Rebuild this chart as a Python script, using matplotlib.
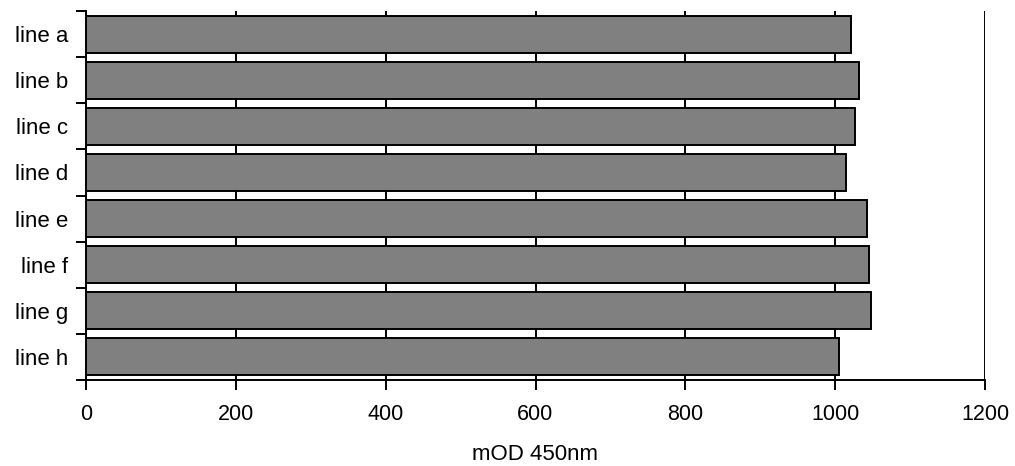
import numpy as np
import matplotlib
matplotlib.use("Agg")
import matplotlib.pyplot as plt
from matplotlib.ticker import FixedLocator, NullFormatter

plt.rcParams['font.family'] = ['Liberation Sans', 'DejaVu Sans']

labels = ["line a", "line b", "line c", "line d", "line e", "line f", "line g", "line h"]
values = [1021, 1032, 1026, 1015, 1043, 1045, 1048, 1005]
x_ticks = [0, 200, 400, 600, 800, 1000, 1200]

fig = plt.figure(figsize=(10.15, 4.66), dpi=100)
ax = fig.add_axes([86 / 1015, 1 - 380 / 466, 899 / 1015, 369 / 466])

pos = np.arange(len(labels))
ax.barh(pos, values, height=0.8, color="#808080", edgecolor="black",
        linewidth=1.4, zorder=3)

ax.set_xlim(0, 1200)
ax.set_ylim(len(labels) - 0.5, -0.5)
ax.set_xticks(x_ticks)
ax.set_xticklabels([str(t) for t in x_ticks], fontsize=15.5)
ax.tick_params(axis='x', direction='out', length=7, width=1.4, pad=10)

# category labels centred, tick marks on the boundaries
ax.set_yticks(pos)
ax.set_yticklabels(labels, fontsize=16)
ax.tick_params(axis='y', which='major', length=0, pad=13)
ax.yaxis.set_minor_locator(FixedLocator(np.arange(-0.5, len(labels), 1.0)))
ax.yaxis.set_minor_formatter(NullFormatter())
ax.tick_params(axis='y', which='minor', direction='out', length=7, width=1.4)

ax.xaxis.grid(True, color="black", linewidth=1.4, zorder=0)
ax.set_axisbelow(True)
for side in ["top", "right"]:
    ax.spines[side].set_visible(False)
for side in ["left", "bottom"]:
    ax.spines[side].set_linewidth(1.4)

ax.set_xlabel("mOD 450nm", fontsize=16, labelpad=14)

fig.savefig("out.png", dpi=100)
